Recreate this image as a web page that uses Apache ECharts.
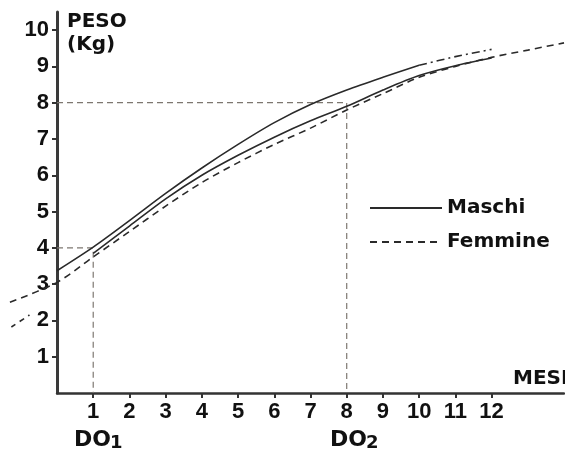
<!DOCTYPE html>
<html>
<head>
<meta charset="utf-8">
<script src="https://cdn.jsdelivr.net/npm/echarts@6/dist/echarts.min.js"></script>
<style>
  html, body { margin: 0; padding: 0; background: #fff; }
  #chart { width: 565px; height: 454px; }
</style>
</head>
<body>
<div id="chart"></div>
<script>
// mesi / peso (kg)
const mesi = [0, 1, 2, 3, 4, 5, 6, 7, 8, 9, 10];
const maschi = [3.37, 4.02, 4.75, 5.5, 6.2, 6.85, 7.45, 7.95, 8.35, 8.7, 9.03];
const mesiFine = [10, 11, 12];
const maschiFine = [9.03, 9.27, 9.47];
const mesiBasso = [1, 2, 3, 4, 5, 6, 7, 8, 9, 10, 11, 12];
const maschiBasso = [3.85, 4.6, 5.35, 6.0, 6.55, 7.05, 7.5, 7.9, 8.35, 8.75, 9.02, 9.23];
const mesiFemmine = [-1.3, 0, 1, 2, 3, 4, 5, 6, 7, 8, 9, 10, 11, 12, 13, 14];
const femmine = [2.5, 3.05, 3.75, 4.45, 5.15, 5.8, 6.35, 6.85, 7.3, 7.8, 8.25, 8.7, 9.0, 9.25, 9.45, 9.65];
const mesiCoda = [-1.26, -0.76];
const coda = [1.82, 2.15];

// linee guida DO1 / DO2
const guida1X = [0, 1, 1];
const guida1Y = [4, 4, 0];
const guida2X = [0, 8, 8];
const guida2Y = [8, 8, 0];

const tickMesi = [1, 2, 3, 4, 5, 6, 7, 8, 9, 10, 11, 12];
const tickPeso = [1, 2, 3, 4, 5, 6, 7, 8, 9, 10];

const pairs = (xs, ys) => xs.map((x, i) => [x, ys[i]]);

const FONT = "'Liberation Sans', Arial, sans-serif";
const WIDE = "'DejaVu Sans', sans-serif";
const INK = '#111';
const LINE = '#2a2a2a';

// griglia principale da 0 a 14 mesi; la seconda (invisibile) parte da -1.5
// con la stessa scala, per le curve che escono a sinistra dell'asse
const GL = 57, GR = 1, XMAX = 14, XMIN2 = -1.5;
const unit = (565 - GL - GR) / XMAX;

const chart = echarts.init(document.getElementById('chart'));

const curve = (name, xs, ys, type) => ({
    name: name,
    type: 'line',
    xAxisIndex: 1,
    yAxisIndex: 1,
    data: pairs(xs, ys),
    symbol: 'none',
    smooth: 0.3,
    silent: true,
    itemStyle: { color: LINE },
    lineStyle: { color: LINE, width: 1.6, type: type }
});

const guide = (xs, ys) => ({
    type: 'line',
    data: pairs(xs, ys),
    symbol: 'none',
    silent: true,
    lineStyle: { color: '#7d7770', width: 1.2, type: [6, 4] },
    z: 1
});

const labelStyle = { color: INK, fontSize: 22, fontWeight: 'bold', fontFamily: FONT, margin: 8 };

const option = {
    animation: false,
    grid: [
        { left: GL, right: GR, top: 12, bottom: 61, outerBoundsMode: 'none' },
        { left: GL + XMIN2 * unit, right: GR, top: 12, bottom: 61, outerBoundsMode: 'none' }
    ],
    xAxis: [
        {
            type: 'value',
            min: 0,
            max: XMAX,
            splitLine: { show: false },
            axisLine: { lineStyle: { color: '#333', width: 2.5 } },
            axisTick: { length: 5, lineStyle: { color: '#333', width: 2 }, customValues: tickMesi },
            axisLabel: Object.assign({ customValues: tickMesi }, labelStyle)
        },
        { type: 'value', gridIndex: 1, min: XMIN2, max: XMAX, show: false }
    ],
    yAxis: [
        {
            type: 'value',
            min: 0,
            max: 10.5,
            splitLine: { show: false },
            axisLine: { lineStyle: { color: '#3a3a3a', width: 3 } },
            axisTick: { length: 5, lineStyle: { color: '#333', width: 2 }, customValues: tickPeso },
            axisLabel: Object.assign({ customValues: tickPeso }, labelStyle)
        },
        { type: 'value', gridIndex: 1, min: 0, max: 10.5, show: false }
    ],
    legend: {
        data: ['Maschi', 'Femmine'],
        orient: 'vertical',
        left: 364,
        top: 193,
        itemWidth: 72,
        itemHeight: 20,
        itemGap: 14,
        itemStyle: { opacity: 0 },
        textStyle: { color: INK, fontSize: 20, fontWeight: 'bold', fontFamily: WIDE },
        selectedMode: false
    },
    series: [
        curve('Maschi', mesi, maschi, 'solid'),
        curve('Femmine', mesiFemmine, femmine, [7, 5]),
        curve('Maschi', mesiFine, maschiFine, [8, 4, 2, 4]),
        curve('Maschi', mesiBasso, maschiBasso, 'solid'),
        curve('Femmine', mesiCoda, coda, [5, 5]),
        guide(guida1X, guida1Y),
        guide(guida2X, guida2Y)
    ],
    graphic: [
        { type: 'text', left: 67, top: 10, style: { text: 'PESO\n(Kg)', fill: INK, font: "bold 20px " + WIDE, lineHeight: 23 } },
        { type: 'text', left: 513, top: 369, style: { text: 'MESI', fill: INK, font: "bold 20px " + WIDE } },
        { type: 'text', left: 74, top: 429, style: { text: 'DO', fill: INK, font: "bold 22px " + WIDE } },
        { type: 'text', left: 110, top: 434, style: { text: '1', fill: INK, font: "bold 18px " + WIDE } },
        { type: 'text', left: 330, top: 429, style: { text: 'DO', fill: INK, font: "bold 22px " + WIDE } },
        { type: 'text', left: 366, top: 434, style: { text: '2', fill: INK, font: "bold 18px " + WIDE } }
    ]
};

chart.setOption(option);
</script>
</body>
</html>
